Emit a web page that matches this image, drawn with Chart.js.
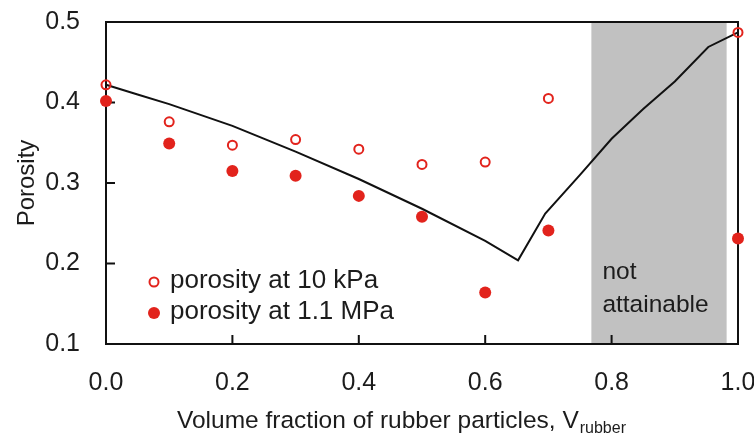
<!DOCTYPE html>
<html lang="en">
<head>
    <meta charset="UTF-8">
    <title>Porosity vs rubber fraction</title>
    <script src="https://cdn.jsdelivr.net/npm/chart.js"></script>
    <style>
        html, body { margin: 0; padding: 0; background: #fff; }
        #wrap { width: 754px; height: 438px; }
    </style>
</head>
<body>
    <div id="wrap"><canvas id="porosityChart"></canvas></div>

    <script>
        // measured samples
        const fractions = [0, 0.1, 0.2, 0.3, 0.4, 0.5, 0.6, 0.7, 1.0];
        const porosity10kPa = [0.422, 0.376, 0.347, 0.354, 0.342, 0.323, 0.326, 0.405, 0.487];
        const porosity11MPa = [0.402, 0.349, 0.315, 0.309, 0.284, 0.258, 0.164, 0.241, 0.231];

        // packing model curve
        const modelFractions = [0, 0.05, 0.1, 0.2, 0.3, 0.4, 0.5, 0.6, 0.652, 0.695, 0.75, 0.8, 0.85, 0.9, 0.953, 1.0];
        const modelPorosity = [0.422, 0.41, 0.398, 0.371, 0.339, 0.305, 0.268, 0.228, 0.204, 0.262, 0.31, 0.355, 0.392, 0.426, 0.469, 0.487];

        const xTicks = [0, 0.2, 0.4, 0.6, 0.8, 1.0];
        const yTicks = [0.1, 0.2, 0.3, 0.4, 0.5];
        const unattainable = [0.768, 0.982];

        const red = '#e2231c';
        const ink = '#1c1c1c';
        const fontFamily = '"Liberation Sans", Arial, Helvetica, sans-serif';

        const toPoints = (xs, ys) => xs.map((v, i) => ({ x: v, y: ys[i] }));

        const decorations = {
            id: 'decorations',
            beforeDatasetsDraw(chart) {
                const { ctx, chartArea: a, scales: { x, y } } = chart;
                ctx.save();
                // shaded band
                const x0 = x.getPixelForValue(unattainable[0]);
                const x1 = x.getPixelForValue(unattainable[1]);
                ctx.fillStyle = '#c1c1c1';
                ctx.fillRect(x0, a.top, x1 - x0, a.bottom - a.top);
                ctx.fillStyle = ink;
                ctx.font = '24.5px ' + fontFamily;
                ctx.textAlign = 'left';
                ctx.textBaseline = 'alphabetic';
                ctx.fillText('not', x0 + 11, a.bottom - 65);
                ctx.fillText('attainable', x0 + 11, a.bottom - 32);

                // box and inward ticks
                ctx.strokeStyle = '#111';
                ctx.lineWidth = 2;
                ctx.strokeRect(a.left, a.top, a.right - a.left, a.bottom - a.top);
                ctx.beginPath();
                xTicks.forEach(v => {
                    const px = x.getPixelForValue(v);
                    ctx.moveTo(px, a.bottom);
                    ctx.lineTo(px, a.bottom - 9);
                });
                yTicks.forEach(v => {
                    const py = y.getPixelForValue(v);
                    ctx.moveTo(a.left, py);
                    ctx.lineTo(a.left + 9, py);
                });
                ctx.stroke();
                ctx.restore();
            },
            afterDraw(chart) {
                const { ctx, chartArea: a } = chart;
                ctx.save();
                // legend inside the plot
                const lx = a.left + 48;
                const rows = [
                    { text: 'porosity at 10 kPa', open: true, base: a.bottom - 56 },
                    { text: 'porosity at 1.1 MPa', open: false, base: a.bottom - 25 }
                ];
                ctx.font = '26px ' + fontFamily;
                ctx.textBaseline = 'alphabetic';
                ctx.textAlign = 'left';
                rows.forEach(r => {
                    ctx.beginPath();
                    if (r.open) {
                        ctx.arc(lx, r.base - 6, 4.5, 0, Math.PI * 2);
                        ctx.strokeStyle = red;
                        ctx.lineWidth = 2;
                        ctx.stroke();
                    } else {
                        ctx.arc(lx, r.base - 6, 6, 0, Math.PI * 2);
                        ctx.fillStyle = red;
                        ctx.fill();
                    }
                    ctx.fillStyle = ink;
                    ctx.fillText(r.text, lx + 16, r.base);
                });

                // x axis title with subscript
                ctx.font = '24.5px ' + fontFamily;
                const main = 'Volume fraction of rubber particles, V';
                const tx = a.left + 71;
                ctx.fillText(main, tx, 428);
                const w = ctx.measureText(main).width;
                ctx.font = '16px ' + fontFamily;
                ctx.fillText('rubber', tx + w + 1, 433);
                ctx.restore();
            }
        };

        document.addEventListener('DOMContentLoaded', () => {
            const ctx = document.getElementById('porosityChart').getContext('2d');
            new Chart(ctx, {
                type: 'scatter',
                data: {
                    datasets: [
                        {
                            label: 'model',
                            data: toPoints(modelFractions, modelPorosity),
                            showLine: true,
                            borderColor: '#111',
                            borderWidth: 2,
                            pointRadius: 0,
                            fill: false,
                            clip: false,
                            order: 3
                        },
                        {
                            label: 'porosity at 10 kPa',
                            data: toPoints(fractions, porosity10kPa),
                            pointStyle: 'circle',
                            pointRadius: 4.5,
                            pointBorderWidth: 2,
                            borderColor: red,
                            backgroundColor: 'transparent',
                            clip: false,
                            order: 2
                        },
                        {
                            label: 'porosity at 1.1 MPa',
                            data: toPoints(fractions, porosity11MPa),
                            pointStyle: 'circle',
                            pointRadius: 6,
                            pointBorderWidth: 0,
                            borderColor: red,
                            backgroundColor: red,
                            clip: false,
                            order: 1
                        }
                    ]
                },
                options: {
                    responsive: true,
                    maintainAspectRatio: false,
                    animation: false,
                    layout: { padding: { top: 22, right: 16, left: 0, bottom: 0 } },
                    plugins: {
                        legend: { display: false },
                        tooltip: { enabled: false }
                    },
                    scales: {
                        x: {
                            type: 'linear',
                            min: 0,
                            max: 1,
                            afterBuildTicks: scale => { scale.ticks = xTicks.map(v => ({ value: v })); },
                            afterFit: scale => {
                                scale.height = 94;
                                scale.paddingLeft = 0;
                                scale.paddingRight = 0;
                            },
                            grid: { display: false, drawTicks: false },
                            border: { display: false },
                            ticks: {
                                padding: 24,
                                color: ink,
                                font: { size: 25, family: fontFamily },
                                callback: v => v.toFixed(1)
                            }
                        },
                        y: {
                            type: 'linear',
                            min: 0.1,
                            max: 0.5,
                            afterBuildTicks: scale => { scale.ticks = yTicks.map(v => ({ value: v })); },
                            afterFit: scale => {
                                scale.width = 106;
                                scale.paddingTop = 0;
                                scale.paddingBottom = 0;
                            },
                            grid: { display: false, drawTicks: false },
                            border: { display: false },
                            ticks: {
                                padding: 26,
                                color: ink,
                                font: { size: 25, family: fontFamily },
                                callback: v => v.toFixed(1)
                            },
                            title: {
                                display: true,
                                text: 'Porosity',
                                color: ink,
                                font: { size: 24, family: fontFamily },
                                padding: { top: 13, bottom: 0 }
                            }
                        }
                    }
                },
                plugins: [decorations]
            });
        });
    </script>
</body>
</html>
